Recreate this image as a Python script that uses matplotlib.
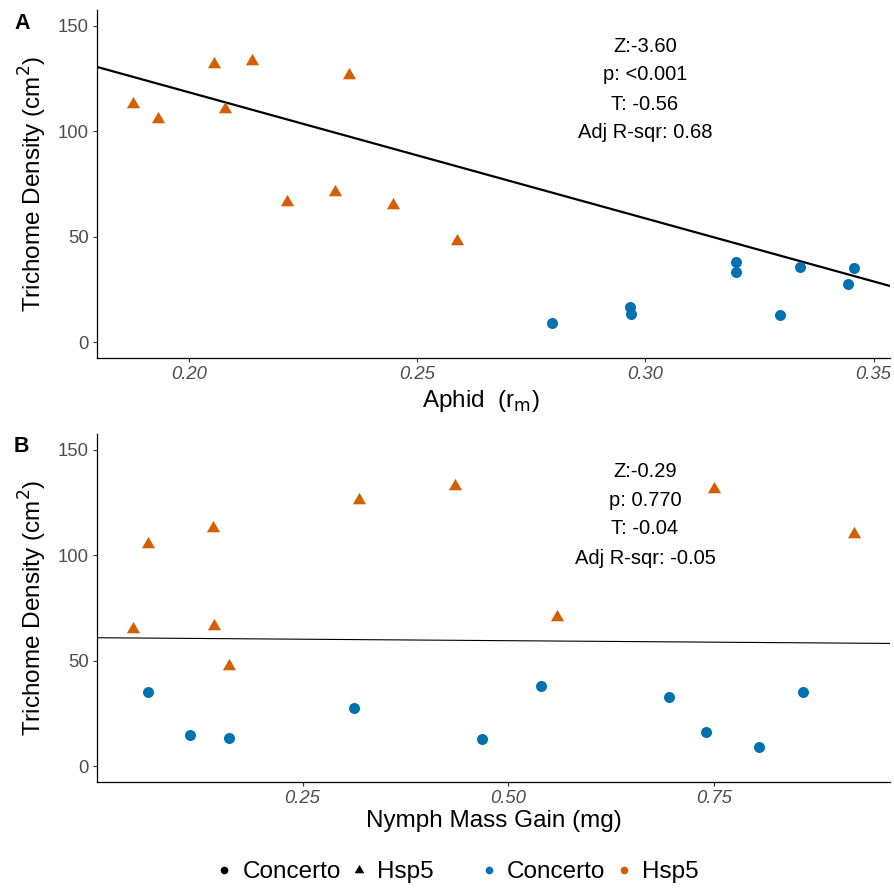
import matplotlib
matplotlib.use('Agg')
import matplotlib.pyplot as plt
from matplotlib.lines import Line2D
import numpy as np

plt.rcParams['font.family'] = ['Liberation Sans', 'DejaVu Sans']

# ---------------- data ----------------
# Panel A: Aphid r_m vs trichome density
aphid_hsp5 = [0.1878, 0.1933, 0.2055, 0.2079, 0.2139, 0.2352, 0.2216, 0.2320, 0.2447, 0.2587]
dens_a_hsp5 = [113.0, 105.6, 131.7, 110.4, 133.3, 126.5, 66.4, 71.1, 65.2, 48.0]
aphid_concerto = [0.2795, 0.2966, 0.2969, 0.3199, 0.3199, 0.3295, 0.3338, 0.3444, 0.3457]
dens_a_concerto = [9.3, 16.5, 13.3, 38.2, 33.1, 13.0, 35.5, 27.6, 35.0]

# Panel B: Nymph mass gain vs trichome density
nymph_hsp5 = [0.0618, 0.1414, 0.3185, 0.4353, 0.0440, 0.1430, 0.1608, 0.5590, 0.7504, 0.9203]
dens_b_hsp5 = [105.2, 112.8, 126.1, 133.0, 65.0, 66.4, 47.6, 70.9, 131.3, 110.0]
nymph_concerto = [0.0623, 0.1137, 0.1608, 0.3124, 0.4686, 0.5404, 0.6949, 0.7403, 0.8044, 0.8579]
dens_b_concerto = [35.0, 15.0, 13.3, 27.4, 12.8, 38.0, 32.7, 16.3, 9.2, 35.3]

# fitted lines (intercept, slope)
fit_a = (238.1, -598.0)
fit_b = (60.9, -2.8)

stats_a = ["Z:-3.60", "p: <0.001", "T: -0.56", "Adj R-sqr: 0.68"]
stats_b = ["Z:-0.29", "p: 0.770", "T: -0.04", "Adj R-sqr: -0.05"]

y_ticks = [0, 50, 100, 150]
y_limits = (0, 150)
x_ticks_a = [0.20, 0.25, 0.30, 0.35]
x_ticklabels_a = ["0.20", "0.25", "0.30", "0.35"]
x_ticks_b = [0.25, 0.50, 0.75]
x_ticklabels_b = ["0.25", "0.50", "0.75"]

groups = ["Concerto", "Hsp5"]
colors = {"Concerto": "#0072B2", "Hsp5": "#D55E00"}

# ---------------- figure ----------------
W, H = 894, 890
fig = plt.figure(figsize=(W / 100, H / 100), dpi=100)

tri = [(-1, -0.577), (1, -0.577), (0, 1.155)]


def px_axes(l, t, r, b):
    return fig.add_axes([l / W, 1 - b / H, (r - l) / W, (b - t) / H])


def style_axis(ax, xticks, xticklabels, xlabel, ylabel_x, xlabel_xy):
    for s in ['top', 'right']:
        ax.spines[s].set_visible(False)
    for s in ['left', 'bottom']:
        ax.spines[s].set_linewidth(0.9)
        ax.spines[s].set_color('black')
    rng = y_limits[1] - y_limits[0]
    ax.set_ylim(y_limits[0] - 0.05 * rng, y_limits[1] + 0.05 * rng)
    ax.set_yticks(y_ticks)
    ax.set_yticklabels([str(v) for v in y_ticks])
    ax.set_xticks(xticks)
    ax.set_xticklabels(xticklabels, fontstyle='italic')
    ax.tick_params(axis='both', direction='out', length=3, width=0.8,
                   color='#333333', labelcolor='#4D4D4D', labelsize=13.3, pad=3)
    ax.set_ylabel("Trichome Density (cm$^2$)", fontsize=17.5)
    ax.yaxis.set_label_coords(ylabel_x, 0.5)
    ax.set_xlabel(xlabel, fontsize=17.5)
    ax.xaxis.set_label_coords(*xlabel_xy)


def scatter_groups(ax, xs_c, ys_c, xs_h, ys_h):
    ax.scatter(xs_c, ys_c, s=63, marker='o', color=colors["Concerto"], linewidths=0, zorder=3)
    ax.scatter(xs_h, ys_h, s=120, marker=tri, color=colors["Hsp5"], linewidths=0, zorder=3)
    ax.margins(x=0.05)


def fit_line(ax, fit, lw):
    x0, x1 = ax.get_xlim()
    xs = np.array([x0, x1])
    ax.plot(xs, fit[0] + fit[1] * xs, color='black', lw=lw, zorder=2, scalex=False)
    ax.set_xlim(x0, x1)


def stats_text(ax, lines, top_px, axes_top, axes_bottom):
    for i, t in enumerate(lines):
        y = top_px + 29 * i
        ax.text(0.691, (axes_bottom - y) / (axes_bottom - axes_top), t,
                transform=ax.transAxes, ha='center', va='center', fontsize=14.5, color='black')


# Panel A
axA = px_axes(97, 10, 890, 358)
scatter_groups(axA, aphid_concerto, dens_a_concerto, aphid_hsp5, dens_a_hsp5)
fit_line(axA, fit_a, 1.6)
style_axis(axA, x_ticks_a, x_ticklabels_a, "Aphid  (r$_\\mathrm{m}$)", -0.06, (0.484, -0.085))
stats_text(axA, stats_a, 46, 10, 358)

# Panel B
axB = px_axes(97, 434, 890, 782)
scatter_groups(axB, nymph_concerto, dens_b_concerto, nymph_hsp5, dens_b_hsp5)
fit_line(axB, fit_b, 0.8)
style_axis(axB, x_ticks_b, x_ticklabels_b, "Nymph Mass Gain (mg)", -0.06, (0.5, -0.08))
stats_text(axB, stats_b, 471, 434, 782)

# Panel letters
fig.text(14 / W, 1 - 29 / H, "A", fontsize=15.5, fontweight='bold', va='baseline', ha='left')
fig.text(14 / W, 1 - 452 / H, "B", fontsize=15.5, fontweight='bold', va='baseline', ha='left')

# Legends
shape_handles = [
    Line2D([], [], ls='none', marker='o', ms=5.5, color='black', mew=0),
    Line2D([], [], ls='none', marker=tri, ms=8, color='black', mew=0),
]
color_handles = [
    Line2D([], [], ls='none', marker='o', ms=5.5, color=colors[g], mew=0) for g in groups
]
common = dict(ncol=2, frameon=False, fontsize=17.5, handlelength=0.6,
              handletextpad=0.45, columnspacing=0.45, borderpad=0, loc='center')
fig.legend(shape_handles, groups, bbox_to_anchor=(325.5 / W, 1 - 872 / H), **common)
fig.legend(color_handles, groups, bbox_to_anchor=(590 / W, 1 - 872 / H), **common)

fig.savefig("out.png", dpi=100)
